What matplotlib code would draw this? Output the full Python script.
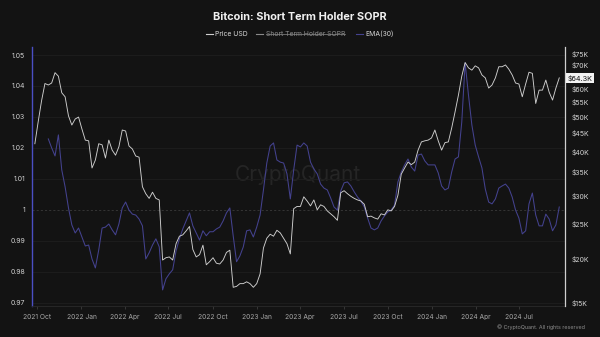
import numpy as np
import pandas as pd
import matplotlib
matplotlib.use("Agg")
import matplotlib.pyplot as plt
import matplotlib.dates as mdates
from matplotlib.lines import Line2D
from matplotlib.ticker import FixedLocator, NullLocator

plt.rcParams["font.family"] = ["Inter", "DejaVu Sans"]

# weekly samples
dates = pd.date_range("2021-09-26", periods=157, freq="7D")

# BTC price, thousands of USD
price_k = [
    42.0, 48.5, 55.5, 62.0, 61.4, 62.2, 66.5, 65.0, 58.4, 56.9,
    50.3, 47.4, 49.3, 49.9, 46.2, 43.0, 42.8, 35.9, 37.8, 42.0,
    41.7, 38.3, 43.0, 40.3, 39.0, 41.2, 45.9, 45.6, 41.4, 40.6,
    38.8, 38.5, 31.8, 30.4, 29.5, 30.7, 29.5, 29.2, 19.8, 20.1,
    20.2, 19.8, 22.0, 23.1, 23.3, 23.9, 24.6, 21.2, 20.2, 20.5,
    21.8, 19.2, 19.6, 20.1, 19.4, 19.3, 19.8, 20.8, 21.1, 16.6,
    16.7, 17.0, 17.0, 17.2, 17.0, 16.6, 17.0, 18.1, 21.4, 22.8,
    23.4, 23.1, 24.0, 23.6, 22.8, 22.0, 20.6, 27.6, 28.0, 28.0,
    29.8, 29.0, 28.1, 29.2, 27.4, 28.3, 28.0, 27.2, 26.7, 26.2,
    25.6, 30.6, 31.0, 30.4, 29.9, 29.5, 29.2, 29.0, 28.4, 26.2,
    26.3, 26.0, 25.8, 26.7, 26.5, 27.4, 27.2, 28.0, 30.1, 34.5,
    35.9, 37.3, 36.7, 37.3, 40.3, 42.5, 42.8, 43.0, 43.6, 45.9,
    42.8, 40.3, 42.3, 42.5, 46.5, 51.6, 57.5, 65.0, 71.0, 68.6,
    67.6, 69.5, 68.6, 65.5, 64.3, 60.2, 61.4, 64.3, 69.1, 69.1,
    69.9, 68.0, 65.5, 62.2, 61.8, 56.9, 61.8, 66.7, 66.2, 54.5,
    59.4, 59.4, 63.4, 58.6, 55.7, 60.2, 64.3,
]

# EMA(30) of short term holder SOPR, starts 4 weeks later
ema_dates = dates[4:]
ema30 = [
    1.0229, 1.0200, 1.0174, 1.0242, 1.0129, 1.0074, 1.0006, 0.9951, 0.9925, 0.9941,
    0.9912, 0.9883, 0.9886, 0.9841, 0.9812, 0.9870, 0.9941, 0.9944, 0.9954, 0.9935,
    0.9919, 0.9954, 1.0006, 1.0025, 0.9999, 0.9986, 0.9983, 0.9970, 0.9948, 0.9841,
    0.9861, 0.9886, 0.9906, 0.9880, 0.9741, 0.9777, 0.9793, 0.9806, 0.9867, 0.9906,
    0.9938, 0.9964, 0.9990, 0.9948, 0.9925, 0.9902, 0.9932, 0.9916, 0.9929, 0.9929,
    0.9938, 0.9944, 0.9964, 0.9990, 1.0006, 0.9916, 0.9832, 0.9851, 0.9880, 0.9932,
    0.9935, 0.9912, 0.9944, 0.9983, 1.0064, 1.0151, 1.0206, 1.0216, 1.0161, 1.0154,
    1.0151, 1.0116, 1.0035, 1.0129, 1.0209, 1.0203, 1.0216, 1.0206, 1.0154, 1.0132,
    1.0116, 1.0083, 1.0070, 1.0064, 1.0038, 1.0009, 0.9999, 1.0061, 1.0087, 1.0090,
    1.0077, 1.0058, 1.0041, 1.0028, 1.0009, 0.9973, 0.9941, 0.9935, 0.9941, 0.9964,
    0.9980, 0.9993, 0.9999, 1.0015, 1.0090, 1.0122, 1.0145, 1.0164, 1.0138, 1.0125,
    1.0177, 1.0180, 1.0158, 1.0145, 1.0145, 1.0145, 1.0119, 1.0077, 1.0064, 1.0070,
    1.0122, 1.0164, 1.0171, 1.0284, 1.0475, 1.0370, 1.0274, 1.0209, 1.0171, 1.0135,
    1.0067, 1.0025, 1.0019, 1.0035, 1.0070, 1.0077, 1.0083, 1.0070, 1.0041, 0.9999,
    0.9973, 0.9922, 0.9932, 1.0019, 1.0054, 0.9983, 0.9948, 0.9948, 0.9986, 0.9970,
    0.9932, 0.9951, 1.0009,
]

sopr_ticks = [0.97, 0.98, 0.99, 1.0, 1.01, 1.02, 1.03, 1.04, 1.05]
sopr_labels = ["0.97", "0.98", "0.99", "1", "1.01", "1.02", "1.03", "1.04", "1.05"]
price_ticks = [15, 20, 25, 30, 35, 40, 45, 50, 55, 60, 70, 75]  # $K
date_ticks = pd.to_datetime([
    "2021-10-01", "2022-01-01", "2022-04-01", "2022-07-01", "2022-10-01",
    "2023-01-01", "2023-04-01", "2023-07-01", "2023-10-01", "2024-01-01",
    "2024-04-01", "2024-07-01",
])

BG = "#131313"
PRICE_C = "#cfcfcf"
EMA_C = "#44428f"

fig = plt.figure(figsize=(6, 3.37), dpi=100, facecolor=BG)
ax = fig.add_axes([0.0533, 0.092, 0.8884, 0.7685], facecolor=BG)
ax2 = ax.twinx()

# left axis: SOPR EMA
ax.plot(ema_dates, ema30, color=EMA_C, lw=0.75, zorder=3)
ax.set_ylim(0.9689, 1.0526)
ax.yaxis.set_major_locator(FixedLocator(sopr_ticks))
ax.set_yticklabels(sopr_labels)
for t in sopr_ticks:
    if t == 1.0:
        ax.axhline(t, color="#3a3a3a", lw=0.6, ls=(0, (2.5, 2.5)), zorder=1)
    else:
        ax.axhline(t, color="#1e1e1e", lw=0.6, zorder=1)

# watermark
ax.text(0.499, 0.506, "CryptoQuant", transform=ax.transAxes, ha="center",
        va="center", fontsize=15, color="#252525", zorder=0)

# right axis: price (log)
ax2.plot(dates, np.array(price_k) * 1000, color=PRICE_C, lw=0.65, zorder=4)
ax2.set_yscale("log")
ax2.set_ylim(14710, 78500)
ax2.yaxis.set_major_locator(FixedLocator([p * 1000 for p in price_ticks]))
ax2.yaxis.set_minor_locator(NullLocator())
ax2.set_yticklabels([f"${p}K" for p in price_ticks])

last = price_k[-1]
ax2.annotate(f"${last}K", xy=(1.0, last * 1000), xycoords=("axes fraction", "data"),
             xytext=(2, 0), textcoords="offset points", ha="left", va="center",
             fontsize=5.2, color="#111111",
             bbox=dict(boxstyle="square,pad=0.25", fc="#f2f2f2", ec="none"))

ax.set_xlim(pd.Timestamp("2021-09-20"), pd.Timestamp("2024-10-04"))
ax.xaxis.set_major_locator(FixedLocator(mdates.date2num(date_ticks)))
ax.xaxis.set_major_formatter(mdates.DateFormatter("%Y %b"))

for a in (ax, ax2):
    for s in a.spines.values():
        s.set_visible(False)
ax.spines["left"].set_visible(True)
ax.spines["left"].set_color("#4b4fc4")
ax.spines["left"].set_linewidth(1.0)
ax2.spines["right"].set_visible(True)
ax2.spines["right"].set_color("#cfcfcf")
ax2.spines["right"].set_linewidth(0.9)
ax.spines["bottom"].set_visible(True)
ax.spines["bottom"].set_color("#2a2a2a")
ax.spines["bottom"].set_linewidth(0.6)

ax.tick_params(axis="y", length=0, pad=5, labelsize=5, labelcolor="#cfcfcf")
ax2.tick_params(axis="y", length=0, pad=5, labelsize=5, labelcolor="#d4d4d4")
ax.tick_params(axis="x", length=2.5, width=0.5, color="#444444", pad=3,
               labelsize=4.8, labelcolor="#a8a8a8")

# title and legend
fig.text(0.5, 1 - 17.5 / 337, "Bitcoin: Short Term Holder SOPR", ha="center",
         va="center", fontsize=7.9, fontweight="bold", color="#f0f0f0")

leg_y = 1 - 33.7 / 337
items = [
    (205.5, 215.0, "Price USD", PRICE_C, "#d8d8d8", False),
    (256.4, 266.0, "Short Term Holder SOPR", "#8a8a8a", "#8a8a8a", True),
    (355.9, 365.4, "EMA(30)", EMA_C, "#d8d8d8", False),
]
fig.canvas.draw()
renderer = fig.canvas.get_renderer()
for x0, tx, label, lc, tc, struck in items:
    fig.add_artist(Line2D([x0 / 600, (x0 + 7) / 600], [leg_y, leg_y],
                          color=lc, lw=0.8, transform=fig.transFigure))
    t = fig.text(tx / 600, leg_y, label, ha="left", va="center",
                 fontsize=4.9, color=tc)
    if struck:
        bb = t.get_window_extent(renderer).transformed(fig.transFigure.inverted())
        fig.add_artist(Line2D([bb.x0, bb.x1], [leg_y, leg_y], color=tc, lw=0.5,
                              transform=fig.transFigure))

fig.text(585 / 600, 1 - 327 / 337, "\u00a9 CryptoQuant. All rights reserved",
         ha="right", va="center", fontsize=3.9, color="#8c8c8c")

fig.savefig("out.png", dpi=100, facecolor=BG)
